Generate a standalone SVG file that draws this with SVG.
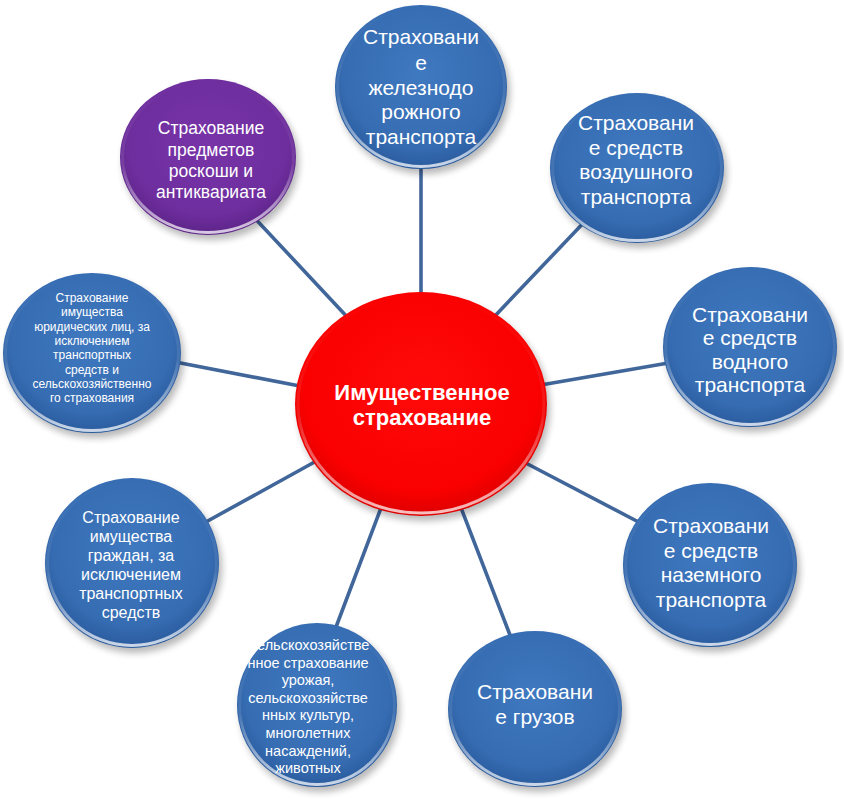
<svg xmlns="http://www.w3.org/2000/svg" width="844" height="799" viewBox="0 0 844 799">
<defs>
<style>
.conn{stroke:#41669a;stroke-width:3.6;stroke-linecap:round;fill:none}
.shadow{fill:#000;opacity:.28;filter:url(#blur)}
.blue{fill:url(#gBlue)}
.purple{fill:url(#gPurple)}
.red{fill:url(#gRed)}
.rim{fill:none;stroke:url(#gRim);stroke-width:3}
.edge{fill:none;stroke:#1f4a80;stroke-opacity:.35;stroke-width:1.2}
.t{font-family:"Liberation Sans",Arial,sans-serif;fill:#fff;text-anchor:middle}
.f21{font-size:21px}
.f17{font-size:17.5px}
.f16{font-size:16px}
.f14{font-size:14.5px}
.f12{font-size:12px}
.main{font-size:22px;font-weight:bold}
</style>
<filter id="blur" x="-20%" y="-20%" width="140%" height="140%"><feGaussianBlur stdDeviation="3.5"/></filter>
<radialGradient id="gBlue" cx="50%" cy="42%" r="60%">
<stop offset="0" stop-color="#3f79c0"/>
<stop offset="0.75" stop-color="#366cb2"/>
<stop offset="1" stop-color="#28589a"/>
</radialGradient>
<radialGradient id="gPurple" cx="50%" cy="42%" r="60%">
<stop offset="0" stop-color="#7834a8"/>
<stop offset="0.75" stop-color="#6e2e9e"/>
<stop offset="1" stop-color="#5a2285"/>
</radialGradient>
<radialGradient id="gRed" cx="50%" cy="42%" r="60%">
<stop offset="0" stop-color="#ff0a0a"/>
<stop offset="0.78" stop-color="#fa0000"/>
<stop offset="1" stop-color="#d80000"/>
</radialGradient>
<linearGradient id="gRim" x1="0" y1="0" x2="0" y2="1">
<stop offset="0" stop-color="#fff" stop-opacity="0"/>
<stop offset="0.55" stop-color="#fff" stop-opacity="0.1"/>
<stop offset="1" stop-color="#fff" stop-opacity="0.75"/>
</linearGradient>
</defs>
<rect width="844" height="799" fill="#fff"/>

<g id="connectors">
<line class="conn" x1="250" y1="213" x2="350" y2="320"/>
<line class="conn" x1="421" y1="160" x2="421" y2="300"/>
<line class="conn" x1="590" y1="216" x2="493" y2="318"/>
<line class="conn" x1="535" y1="386" x2="680" y2="361"/>
<line class="conn" x1="520" y1="460" x2="650" y2="528"/>
<line class="conn" x1="458" y1="500" x2="510" y2="635"/>
<line class="conn" x1="384" y1="500" x2="333" y2="635"/>
<line class="conn" x1="195" y1="528" x2="320" y2="459"/>
<line class="conn" x1="165" y1="360" x2="305" y2="387"/>
</g>

<g id="node-center">
<ellipse class="shadow" cx="424" cy="409" rx="126" ry="112"/>
<ellipse class="red" cx="421" cy="404" rx="126" ry="112"/>
<ellipse class="rim" cx="421" cy="404" rx="123" ry="109"/>
<text class="t main" x="422" y="400">Имущественное</text>
<text class="t main" x="422" y="425">страхование</text>
</g>

<g id="node-luxury">
<ellipse class="shadow" cx="211" cy="162" rx="88" ry="78"/>
<ellipse class="purple" cx="208" cy="157" rx="88" ry="78"/>
<ellipse class="rim" cx="208" cy="157" rx="85.5" ry="75.5"/>
<text class="t f17" x="211" y="134">Страхование</text>
<text class="t f17" x="211" y="155.5">предметов</text>
<text class="t f17" x="211" y="177">роскоши и</text>
<text class="t f17" x="211" y="198">антиквариата</text>
</g>

<g id="node-rail">
<ellipse class="shadow" cx="424" cy="92" rx="86" ry="82"/>
<ellipse class="blue" cx="421" cy="87" rx="86" ry="82"/>
<ellipse class="rim" cx="421" cy="87" rx="83.5" ry="79.5"/>
<text class="t f21" x="421" y="44">Страховани</text>
<text class="t f21" x="421" y="70">е</text>
<text class="t f21" x="421" y="95">железнодо</text>
<text class="t f21" x="421" y="119">рожного</text>
<text class="t f21" x="421" y="144">транспорта</text>
</g>

<g id="node-air">
<ellipse class="shadow" cx="640" cy="173" rx="87" ry="75"/>
<ellipse class="blue" cx="637" cy="168" rx="87" ry="75"/>
<ellipse class="rim" cx="637" cy="168" rx="84.5" ry="72.5"/>
<text class="t f21" x="636" y="130">Страховани</text>
<text class="t f21" x="636" y="155">е средств</text>
<text class="t f21" x="636" y="179">воздушного</text>
<text class="t f21" x="636" y="204">транспорта</text>
</g>

<g id="node-water">
<ellipse class="shadow" cx="753" cy="352" rx="87" ry="80"/>
<ellipse class="blue" cx="750" cy="347" rx="87" ry="80"/>
<ellipse class="rim" cx="750" cy="347" rx="84.5" ry="77.5"/>
<text class="t f21" x="750" y="322">Страховани</text>
<text class="t f21" x="750" y="345">е средств</text>
<text class="t f21" x="750" y="369">водного</text>
<text class="t f21" x="750" y="392">транспорта</text>
</g>

<g id="node-land">
<ellipse class="shadow" cx="713" cy="570" rx="87" ry="82"/>
<ellipse class="blue" cx="710" cy="565" rx="87" ry="82"/>
<ellipse class="rim" cx="710" cy="565" rx="84.5" ry="79.5"/>
<text class="t f21" x="711" y="533">Страховани</text>
<text class="t f21" x="711" y="558">е средств</text>
<text class="t f21" x="711" y="582">наземного</text>
<text class="t f21" x="711" y="607">транспорта</text>
</g>

<g id="node-cargo">
<ellipse class="shadow" cx="538" cy="714" rx="87" ry="78"/>
<ellipse class="blue" cx="535" cy="709" rx="87" ry="78"/>
<ellipse class="rim" cx="535" cy="709" rx="84.5" ry="75.5"/>
<text class="t f21" x="535" y="699">Страховани</text>
<text class="t f21" x="535" y="724">е грузов</text>
</g>

<g id="node-agri">
<ellipse class="shadow" cx="320" cy="710" rx="80" ry="82"/>
<ellipse class="blue" cx="317" cy="705" rx="80" ry="82"/>
<ellipse class="rim" cx="317" cy="705" rx="77.5" ry="79.5"/>
<text class="t f14" x="308" y="650">Сельскохозяйстве</text>
<text class="t f14" x="308" y="667.6">нное страхование</text>
<text class="t f14" x="308" y="685.2">урожая,</text>
<text class="t f14" x="308" y="702.8">сельскохозяйстве</text>
<text class="t f14" x="308" y="720.4">нных культур,</text>
<text class="t f14" x="308" y="738">многолетних</text>
<text class="t f14" x="308" y="755.6">насаждений,</text>
<text class="t f14" x="308" y="773.2">животных</text>
</g>

<g id="node-citizens">
<ellipse class="shadow" cx="135" cy="568" rx="87" ry="85"/>
<ellipse class="blue" cx="132" cy="563" rx="87" ry="85"/>
<ellipse class="rim" cx="132" cy="563" rx="84.5" ry="82.5"/>
<text class="t f16" x="131" y="523">Страхование</text>
<text class="t f16" x="131" y="542">имущества</text>
<text class="t f16" x="131" y="561">граждан, за</text>
<text class="t f16" x="131" y="580">исключением</text>
<text class="t f16" x="131" y="599">транспортных</text>
<text class="t f16" x="131" y="618">средств</text>
</g>

<g id="node-legal">
<ellipse class="shadow" cx="95" cy="358" rx="89" ry="80"/>
<ellipse class="blue" cx="92" cy="353" rx="89" ry="80"/>
<ellipse class="rim" cx="92" cy="353" rx="86.5" ry="77.5"/>
<text class="t f12" x="92" y="302">Страхование</text>
<text class="t f12" x="92" y="316.3">имущества</text>
<text class="t f12" x="92" y="330.6">юридических лиц, за</text>
<text class="t f12" x="92" y="345">исключением</text>
<text class="t f12" x="92" y="359.2">транспортных</text>
<text class="t f12" x="92" y="373.5">средств и</text>
<text class="t f12" x="92" y="387.8">сельскохозяйственно</text>
<text class="t f12" x="92" y="402">го страхования</text>
</g>
</svg>
